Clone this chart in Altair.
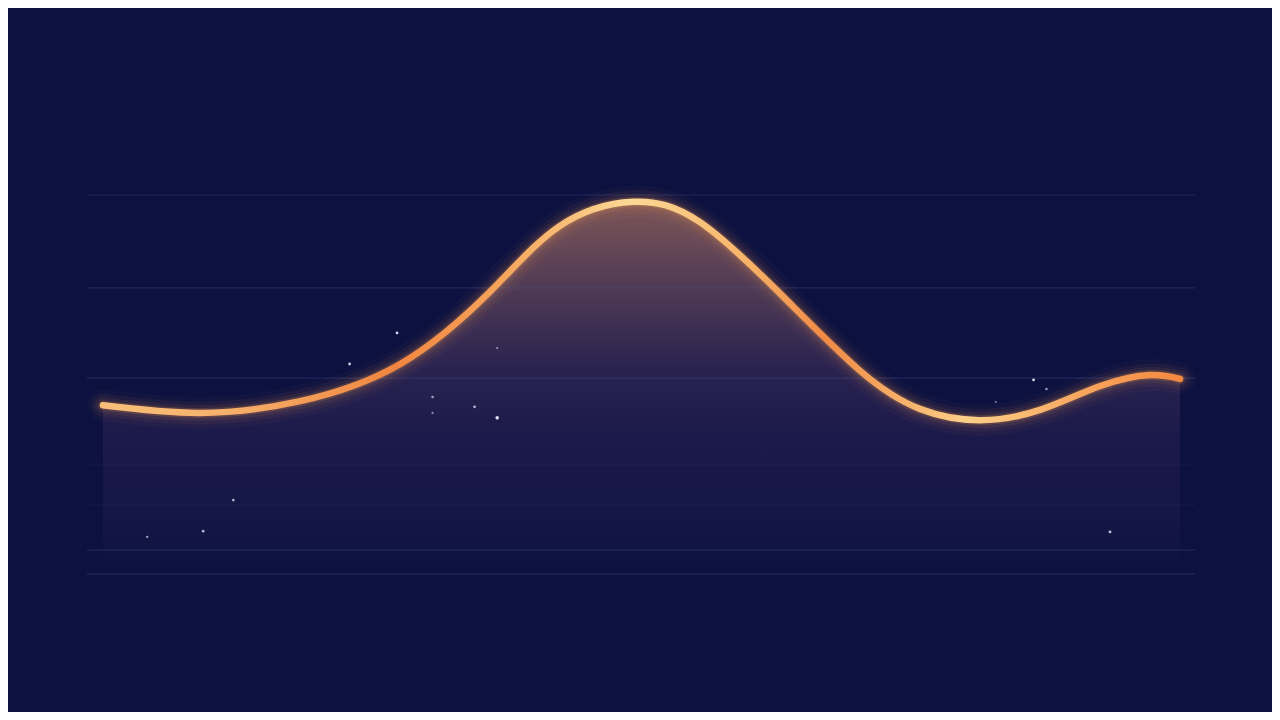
import altair as alt
import pandas as pd

# ---- data ----
t_vals = [0, 9.0, 18.3, 27.6, 35.9, 42.4, 49.2, 55.4, 62.9, 70.3, 75.9, 81.4, 87.0, 92.6, 97.2, 100]
v_vals = [44.5, 42.5, 45.6, 55.4, 74.4, 91.8, 98.2, 92.9, 73.9, 53.6, 43.5, 40.6, 43.3, 49.6, 52.5, 51.5]

grid_vals = [100, 75.5, 51.7, 28.8, 18.2, 6.3, 0]
grid_alpha = [0.30, 0.32, 0.32, 0.10, 0.12, 0.28, 0.42]
grid_start = -1.5
grid_end = 101.4

star_t = [27.3, 22.9, 30.6, 30.6, 34.5, 36.6, 36.6, 86.4, 87.6, 82.9, 12.1, 9.3, 4.1, 93.5]
star_v = [63.6, 55.4, 46.7, 42.5, 44.1, 59.6, 41.2, 51.2, 48.8, 45.4, 19.5, 11.3, 9.8, 11.1]
star_size = [8, 8, 6, 5, 8, 5, 13, 8, 6, 5, 7, 7, 6, 8]
star_alpha = [0.9, 0.85, 0.65, 0.55, 0.75, 0.55, 0.95, 0.9, 0.65, 0.45, 0.75, 0.75, 0.65, 0.8]

df_line = pd.DataFrame({"t": t_vals, "v": v_vals, "base": [0] * len(t_vals)})
df_grid = pd.DataFrame({"v": grid_vals, "a": grid_alpha,
                        "x0": [grid_start] * len(grid_vals), "x1": [grid_end] * len(grid_vals)})
df_stars = pd.DataFrame({"t": star_t, "v": star_v, "s": star_size, "a": star_alpha})

BG = "#0c1140"

xs = alt.Scale(domain=[-8.82, 108.54], nice=False, zero=False)
ys = alt.Scale(domain=[-36.41, 149.34], nice=False, zero=False)

line_grad = alt.LinearGradient(
    gradient="linear", x1=0, y1=0, x2=1, y2=0,
    stops=[
        alt.GradientStop(offset=0.0, color="#f8bf7a"),
        alt.GradientStop(offset=0.12, color="#f6b06a"),
        alt.GradientStop(offset=0.27, color="#f08540"),
        alt.GradientStop(offset=0.37, color="#f6a45c"),
        alt.GradientStop(offset=0.49, color="#fcd996"),
        alt.GradientStop(offset=0.59, color="#f8b66c"),
        alt.GradientStop(offset=0.67, color="#f08a45"),
        alt.GradientStop(offset=0.80, color="#fbcf88"),
        alt.GradientStop(offset=0.92, color="#f7a35c"),
        alt.GradientStop(offset=1.0, color="#f5883f"),
    ],
)

area_grad = alt.LinearGradient(
    gradient="linear", x1=0, y1=0, x2=0, y2=1,
    stops=[
        alt.GradientStop(offset=0.0, color="#7c5658"),
        alt.GradientStop(offset=0.10, color="#6a4a56"),
        alt.GradientStop(offset=0.25, color="#4c3854"),
        alt.GradientStop(offset=0.45, color="#2a2350"),
        alt.GradientStop(offset=0.62, color="#1c1a4a"),
        alt.GradientStop(offset=0.88, color="#131645"),
        alt.GradientStop(offset=1.0, color=BG),
    ],
)

X = alt.X("t:Q", scale=xs, axis=None)
Y = alt.Y("v:Q", scale=ys, axis=None)
CURVE = "natural"

area = alt.Chart(df_line).mark_area(interpolate=CURVE, fill=area_grad).encode(
    x=X, y=Y, y2="base:Q"
)

grid = alt.Chart(df_grid).mark_rule(color="#4a5598", strokeWidth=1.2).encode(
    x=alt.X("x0:Q", scale=xs, axis=None),
    x2="x1:Q",
    y=alt.Y("v:Q", scale=ys, axis=None),
    opacity=alt.Opacity("a:Q", scale=None),
)

glow_layers = []
for w, op in [(32, 0.03), (23, 0.05), (16, 0.08), (10, 0.17)]:
    glow_layers.append(
        alt.Chart(df_line).mark_line(
            interpolate=CURVE, stroke="#f7a050", strokeWidth=w,
            strokeCap="round", opacity=op
        ).encode(x=X, y=Y)
    )

line = alt.Chart(df_line).mark_line(
    interpolate=CURVE, stroke=line_grad, strokeWidth=6.5, strokeCap="round"
).encode(x=X, y=Y)

stars = alt.Chart(df_stars).mark_circle(color="#e6ecff").encode(
    x=X, y=Y,
    size=alt.Size("s:Q", scale=None),
    opacity=alt.Opacity("a:Q", scale=None),
)

chart = alt.layer(area, grid, *glow_layers, line, stars).properties(
    width=1264, height=704, padding=0, background=BG,
    autosize=alt.AutoSizeParams(type="none"),
).configure_view(strokeWidth=0)

chart.save("out.html", embed_options={"renderer": "svg", "actions": False})
